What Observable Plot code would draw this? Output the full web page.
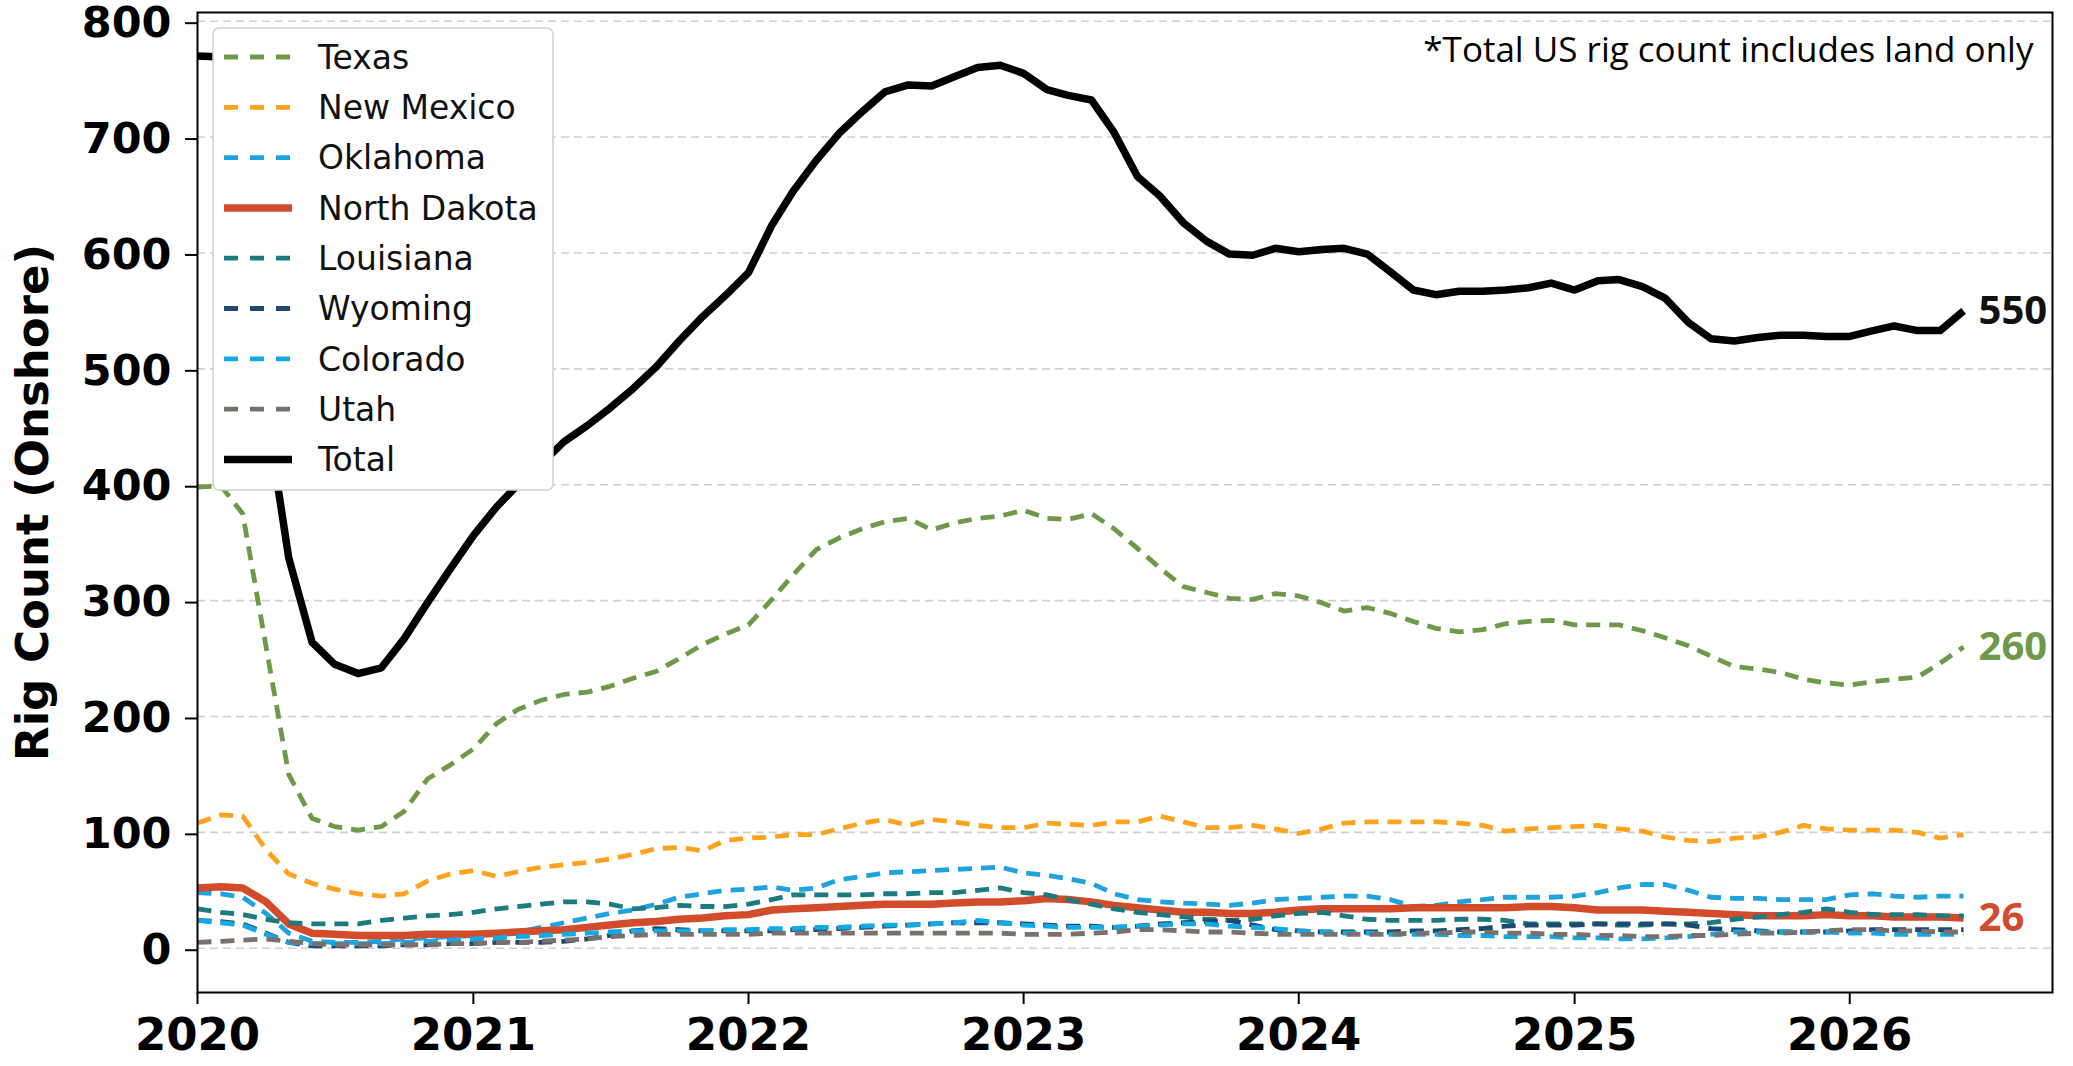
<!DOCTYPE html>
<html>
<head>
<meta charset="utf-8">
<script src="https://cdn.jsdelivr.net/npm/d3@7"></script>
<script src="https://cdn.jsdelivr.net/npm/@observablehq/plot@0.6"></script>
<style>
html, body { margin: 0; padding: 0; background: #ffffff; }
#chart { position: relative; width: 2073px; height: 1066px; }
</style>
</head>
<body>
<div id="chart"></div>
<script>
// ---- Data (monthly, Jan 2020 .. Jun 2026) ----
const months = d3.utcMonth.range(new Date(Date.UTC(2020, 0, 1)), new Date(Date.UTC(2026, 6, 1)));

const texas = [398,399,375,260,150,112,105,102,105,118,146,158,
  172,194,206,214,219,221,226,233,239,250,262,271,
  279,301,322,344,354,362,368,371,361,367,371,373,
  378,371,370,375,362,345,328,312,307,302,301,306,
  304,298,291,294,289,282,276,273,275,280,282,283,
  279,279,279,274,268,261,252,243,241,238,232,229,
  227,230,232,234,246,260];
const newMexico = [108,115,114,85,64,56,51,47,45,47,58,64,
  67,62,66,70,72,74,77,81,86,87,84,93,
  95,96,98,98,103,108,111,106,111,109,106,104,
  104,108,107,106,109,109,114,109,104,104,106,103,
  99,103,108,109,109,109,109,108,106,101,103,104,
  105,106,103,101,96,93,92,95,96,100,106,103,
  102,102,102,100,95,98];
const oklahoma = [48,47,44,30,13,6,5,5,6,8,9,10,
  11,12,14,18,22,26,30,33,38,44,47,50,
  51,53,50,52,59,62,65,66,67,68,69,70,
  65,63,60,56,47,42,40,39,38,37,39,42,
  43,44,45,45,42,36,37,40,42,44,44,44,
  45,48,52,55,55,50,44,43,43,42,42,42,
  46,47,45,44,45,45];
const northDakota = [52,53,52,40,21,13,12,11,11,11,12,12,
  12,13,14,15,16,18,20,22,23,25,26,28,
  29,33,34,35,36,37,38,38,38,39,40,40,
  41,43,42,40,37,35,33,31,31,30,30,31,
  33,34,34,34,34,35,35,35,35,35,36,36,
  35,33,33,33,32,31,30,29,28,28,28,29,
  28,28,27,27,27,26];
const louisiana = [34,31,29,25,22,21,21,21,24,26,28,29,
  31,34,36,38,40,40,38,34,35,37,36,36,
  38,42,46,46,46,46,47,47,48,48,50,52,
  48,46,42,38,34,31,29,27,25,24,25,28,
  30,31,28,25,24,24,24,25,25,24,21,21,
  21,21,20,20,21,21,22,25,27,29,31,34,
  31,29,29,29,28,28];
const wyoming = [24,23,21,13,5,2,2,2,2,3,3,4,
  4,5,5,5,6,8,11,15,17,16,15,15,
  15,15,16,16,17,18,19,20,21,22,22,22,
  21,20,19,19,18,19,21,22,23,24,20,16,
  15,14,14,14,14,15,15,16,17,19,20,20,
  20,21,21,21,21,20,17,16,15,14,14,14,
  15,16,16,16,16,16];
const colorado = [24,22,20,12,5,4,4,4,4,5,6,7,
  8,9,10,11,12,13,14,15,15,15,15,16,
  16,17,17,18,18,19,20,20,21,22,24,22,
  20,19,18,18,18,19,20,21,21,19,18,17,
  15,14,13,13,12,12,12,11,11,10,10,10,
  9,9,8,8,9,10,12,14,14,14,14,14,
  13,13,12,12,12,12];
const utah = [5,6,7,8,6,4,3,3,3,3,3,4,
  4,5,5,6,7,8,10,11,12,12,12,12,
  12,13,13,13,13,13,13,13,13,13,13,13,
  12,12,12,13,14,16,16,15,14,14,13,12,
  12,12,12,12,12,13,13,14,14,13,13,12,
  12,11,11,10,10,11,11,12,13,13,14,15,
  16,16,15,15,14,14];
const total = [770,769,765,465,337,264,245,237,242,267,298,327,
  356,381,400,418,437,451,466,483,502,524,545,563,
  583,624,653,680,703,722,739,745,744,752,760,762,
  755,741,736,732,704,666,649,626,610,599,598,604,
  601,603,604,599,584,568,564,567,567,568,570,574,
  568,576,577,571,561,540,526,524,527,529,529,528,
  528,533,537,533,533,550];

const seriesNames = ["Texas","New Mexico","Oklahoma","North Dakota","Louisiana","Wyoming","Colorado","Utah","Total"];
const seriesValues = [texas, newMexico, oklahoma, northDakota, louisiana, wyoming, colorado, utah, total];
const seriesColors = ["#6c9a48","#ffa31f","#1fa3de","#d24b2b","#1b7b80","#1c4a72","#12aae6","#7a706d","#000000"];
const seriesDashed = [true,true,true,false,true,true,true,true,false];
const labeledSeries = ["Texas","North Dakota","Total"];
const labelColors = {"Texas":"#6c9a48","North Dakota":"#d24b2b","Total":"#111111"};

const yTicks = [0,100,200,300,400,500,600,700,800];
const xTicks = [2020,2021,2022,2023,2024,2025,2026].map(y => new Date(Date.UTC(y,0,1)));
const yLabel = "Rig Count (Onshore)";
const note = "*Total US rig count includes land only";

// ---- Build table ----
const rows = seriesNames.flatMap((name, s) =>
  seriesValues[s].map((v, i) => ({name, date: months[i], value: v})));
const lastRows = labeledSeries.map(name => {
  const s = seriesNames.indexOf(name);
  const vals = seriesValues[s];
  return {name, date: months[vals.length - 1], value: vals[vals.length - 1]};
});

const lineMarks = seriesNames.map((name, s) =>
  Plot.line(rows.filter(d => d.name === name), {
    x: "date", y: "value",
    stroke: seriesColors[s],
    strokeWidth: seriesDashed[s] ? 4.8 : 7.5,
    strokeDasharray: seriesDashed[s] ? "14,9" : null,
    strokeLinejoin: "round",
    strokeLinecap: "butt"
  }));

const plot = Plot.plot({
  width: 2073,
  height: 1066,
  marginLeft: 197,
  marginRight: 21,
  marginTop: 12,
  marginBottom: 74,
  style: {fontFamily: "DejaVu Sans", background: "#ffffff", color: "#000", overflow: "visible"},
  x: {type: "utc", domain: [new Date(Date.UTC(2020,0,1)), new Date(Date.UTC(2026,8,27))]},
  y: {domain: [-38.2, 807.5]},
  marks: [
    Plot.gridY(yTicks, {stroke: "#cfcfcf", strokeOpacity: 1, strokeWidth: 1.6, strokeDasharray: "8,5"}),
    ...lineMarks,
    Plot.text(lastRows, {
      x: "date", y: "value", text: d => String(d.value),
      fill: d => labelColors[d.name],
      dx: 15, textAnchor: "start", lineAnchor: "middle",
      fontSize: 40, fontWeight: "bold", fontFamily: "Open Sans"
    }),
    Plot.text([note], {
      frameAnchor: "top-right", dx: -19, dy: 25, textAnchor: "end", lineAnchor: "top",
      fontSize: 35, fontFamily: "Open Sans", fill: "#000"
    }),
    Plot.text([yLabel], {
      frameAnchor: "left", rotate: -90, dx: -164, textAnchor: "middle", lineAnchor: "middle",
      fontSize: 45, fontWeight: "bold", fill: "#000"
    }),
    Plot.frame({stroke: "#000", strokeWidth: 2}),
    Plot.axisY(yTicks, {
      anchor: "left", tickSize: 12, tickPadding: 14, label: null, dy: 2,
      tickFormat: d => String(d), fontSize: 43, fontWeight: "bold", stroke: "#000", strokeWidth: 2
    }),
    Plot.axisX(xTicks, {
      anchor: "bottom", tickSize: 12, tickPadding: 14, label: null,
      tickFormat: d => String(d.getUTCFullYear()), fontSize: 45, fontWeight: "bold", stroke: "#000", strokeWidth: 2
    })
  ]
});

document.getElementById("chart").appendChild(plot);

// ---- Legend (drawn inside the SVG, upper left) ----
const svg = d3.select(plot);
const lg = svg.append("g")
  .attr("font-family", "DejaVu Sans")
  .attr("font-size", 33)
  .attr("text-anchor", "start");
lg.append("rect")
  .attr("x", 213).attr("y", 28).attr("width", 340).attr("height", 462).attr("rx", 6)
  .attr("fill", "#ffffff").attr("fill-opacity", 1)
  .attr("stroke", "#d0d0d0").attr("stroke-width", 1.5);
seriesNames.forEach((name, s) => {
  const y = 57 + s * 50.3;
  lg.append("line")
    .attr("x1", 224).attr("x2", 292).attr("y1", y).attr("y2", y)
    .attr("stroke", seriesColors[s])
    .attr("stroke-width", seriesDashed[s] ? 4.8 : 7.5)
    .attr("stroke-dasharray", seriesDashed[s] ? "14,12" : null);
  lg.append("text")
    .attr("x", 318).attr("y", y).attr("dy", "0.36em")
    .attr("text-anchor", "start")
    .attr("fill", "#111")
    .text(name);
});
</script>
</body>
</html>
